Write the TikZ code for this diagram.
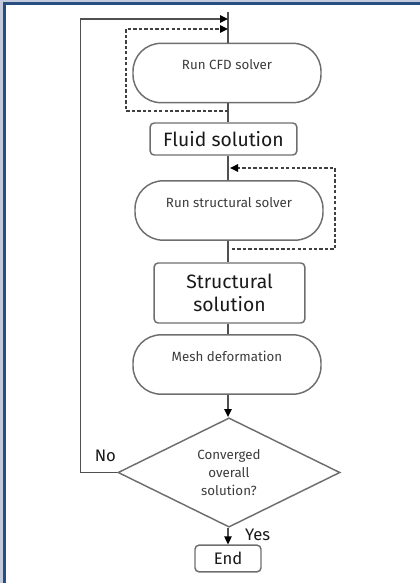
\documentclass[tikz,border=0pt]{standalone}
\usepackage{fontspec}
\setmainfont{Fira Sans}
\usepackage{tikz}
\usetikzlibrary{shapes.geometric, arrows.meta, positioning}
\definecolor{framelight}{RGB}{197, 203, 222}
\definecolor{framedark}{RGB}{38, 78, 126}
\definecolor{boxline}{RGB}{110, 110, 110}
\definecolor{flowline}{RGB}{80, 80, 80}
\definecolor{smalltext}{RGB}{60, 60, 60}
\definecolor{bigtext}{RGB}{25, 25, 25}

\tikzset{
  solver/.style={draw=boxline, line width=1.1pt, rounded corners=21pt,
    minimum width=141pt, minimum height=44.5pt, inner sep=0pt,
    text height=7pt, text depth=12pt, text=smalltext,
    font=\fontsize{10}{12}\selectfont},
  result/.style={draw=boxline, line width=1.1pt, rounded corners=3pt,
    inner sep=0pt, align=center, text=bigtext,
    font=\fontsize{14.5}{17}\selectfont},
  flow/.style={draw=flowline, line width=1.1pt},
  iter/.style={draw=black!75, line width=1.1pt, dash pattern=on 2.5pt off 1.6pt},
  tip/.style={-{Triangle[length=6pt, width=5.5pt, color=black]}},
}

\begin{document}
\begin{tikzpicture}[x=0.75pt, y=-0.75pt]
\useasboundingbox (0,0) rectangle (420,583);
%% frame on top and left
\fill[framelight] (0,0) rectangle (3,583);
\fill[framelight] (0,0) rectangle (420,2);
\fill[framedark] (3,2) rectangle (6,583);
\fill[framedark] (3,2) rectangle (420,5);

\node[solver] (cfd) at (227,73) {Run CFD solver};
\node[result, minimum width=110pt, minimum height=24pt] (fluid) at (223.5,139) {Fluid solution};
\node[solver] (ssolver) at (229,210.5) {Run structural solver};
\node[result, minimum width=113pt, minimum height=45pt] (ssol) at (229.5,293) {Structural\\solution};
\node[solver] (mesh) at (227,364.5) {Mesh deformation};
\node[diamond, draw=boxline, line width=1.1pt, aspect=2, inner sep=0pt,
      minimum width=166.5pt, minimum height=82pt, align=center, text=smalltext,
      font=\fontsize{10}{13.5}\selectfont] (conv) at (229,472.5) {Converged\\overall\\solution?};
\node[result, minimum width=49.5pt, minimum height=20pt,
      font=\fontsize{12.5}{15}\selectfont] (end) at (228,558.5) {End};

\coordinate (top) at (228,12);
\coordinate (loopin) at (228,19);
\coordinate (cfdin) at (228,29);
\coordinate (cfdout) at (228,111);
\coordinate (ssin) at (230,168);
\coordinate (ssout) at (232,249);

%% main flow
\draw[flow] (top) -- (cfd.north -| top);
\draw[flow] (cfd.south -| top) -- (fluid.north -| top);
\draw[flow] (fluid.south -| top) -- (ssolver.north -| top);
\draw[flow] (ssolver.south -| top) -- (ssol.north -| top);
\draw[flow] (ssol.south -| top) -- (mesh.north -| top);
\draw[flow, tip] (mesh.south -| top) -- (conv.north -| top);
\draw[flow, tip] (conv.south -| top) -- node[right, xshift=9pt, yshift=1pt, text=bigtext,
      font=\fontsize{12.5}{15}\selectfont] (yes) {Yes} (end.north -| top);

%% loop back
\draw[flow, tip] (conv.west) -- ++(-37,0) node[above right, xshift=7pt, yshift=4pt, text=bigtext,
      font=\fontsize{12.5}{15}\selectfont] (no) {No} |- (loopin);

%% solver iterations
\draw[iter, tip] (cfdout) -- ++(-102,0) |- (cfdin);
\draw[iter, tip] (ssout) -- ++(103,0) |- (ssin);
\end{tikzpicture}
\end{document}
